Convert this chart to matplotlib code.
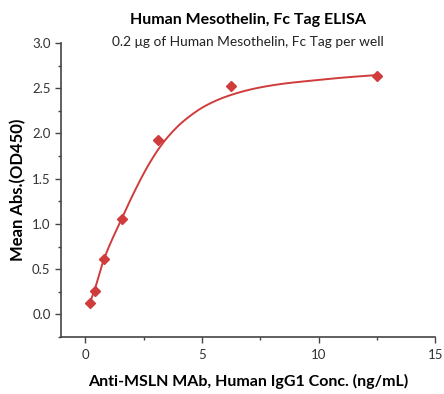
import matplotlib
matplotlib.use("Agg")
import matplotlib.pyplot as plt
from matplotlib.ticker import MultipleLocator
import numpy as np

plt.rcParams['font.family'] = ['Lato', 'DejaVu Sans']

# Data points
conc = [0.195, 0.39, 0.78, 1.56, 3.125, 6.25, 12.5]
od450 = [0.13, 0.26, 0.61, 1.05, 1.93, 2.52, 2.64]

# Fitted curve
curve_x = [0.195, 0.39, 0.78, 1.56, 2.03, 2.6, 3.1, 3.53, 4.18, 5.18, 6.18, 7.33, 8.5, 9.76, 11.19, 12.5]
curve_y = [0.13, 0.27, 0.60, 1.06, 1.32, 1.605, 1.815, 1.96, 2.13, 2.31, 2.42, 2.50, 2.55, 2.585, 2.62, 2.645]

title = "Human Mesothelin, Fc Tag ELISA"
subtitle = "0.2 \u03bcg of Human Mesothelin, Fc Tag per well"
xlabel = "Anti-MSLN MAb, Human IgG1 Conc. (ng/mL)"
ylabel = "Mean Abs.(OD450)"

color = "#d03c3c"


def smooth_line(x, y, n=400):
    """Monotone cubic Hermite rendering of the read-off curve points."""
    x = np.asarray(x, float)
    y = np.asarray(y, float)
    h = np.diff(x)
    delta = np.diff(y) / h
    m = np.empty_like(x)
    m[0] = delta[0]
    m[-1] = delta[-1]
    for k in range(1, len(x) - 1):
        if delta[k - 1] * delta[k] <= 0:
            m[k] = 0.0
        else:
            w1 = 2 * h[k] + h[k - 1]
            w2 = h[k] + 2 * h[k - 1]
            m[k] = (w1 + w2) / (w1 / delta[k - 1] + w2 / delta[k])
    xs = np.linspace(x[0], x[-1], n)
    idx = np.clip(np.searchsorted(x, xs) - 1, 0, len(x) - 2)
    t = (xs - x[idx]) / h[idx]
    h00 = 2 * t**3 - 3 * t**2 + 1
    h10 = t**3 - 2 * t**2 + t
    h01 = -2 * t**3 + 3 * t**2
    h11 = t**3 - t**2
    ys = h00 * y[idx] + h10 * h[idx] * m[idx] + h01 * y[idx + 1] + h11 * h[idx] * m[idx + 1]
    return xs, ys


xs, ys = smooth_line(curve_x, curve_y)

fig = plt.figure(figsize=(4.44, 3.94), dpi=100)
ax = fig.add_axes([0.1374, 0.1447, 0.8426, 0.7463])

ax.plot(xs, ys, color=color, lw=1.4, zorder=2)
ax.plot(conc, od450, linestyle='none', marker='D', markersize=5, color=color, zorder=3)

ax.set_xlim(-1.05, 15)
ax.set_ylim(-0.25, 3.0)
ax.xaxis.set_major_locator(MultipleLocator(5))
ax.xaxis.set_minor_locator(MultipleLocator(2.5))
ax.yaxis.set_minor_locator(MultipleLocator(0.25))
ax.set_yticks([0, 0.5, 1.0, 1.5, 2.0, 2.5, 3.0])
ax.set_yticklabels(["0.0", "0.5", "1.0", "1.5", "2.0", "2.5", "3.0"])

for s in ['top', 'right']:
    ax.spines[s].set_visible(False)
for s in ['left', 'bottom']:
    ax.spines[s].set_color('#444444')
    ax.spines[s].set_linewidth(1.2)

ax.tick_params(which='major', direction='out', length=4, width=1, color='#444444',
               labelsize=9.5, labelcolor='#333333')
ax.tick_params(which='minor', direction='out', length=2.5, width=1, color='#444444')
ax.tick_params(axis='x', pad=5)

ax.set_xlabel(xlabel, fontsize=11.5, fontweight='bold')
ax.xaxis.set_label_coords(0.5, -0.125)
ax.set_ylabel(ylabel, fontsize=12, fontweight='bold')
ax.yaxis.set_label_coords(-0.093, 0.5)

fig.text(0.559, 0.948, title, ha='center', va='center', fontsize=11.5, fontweight='bold')
fig.text(0.559, 0.893, subtitle, ha='center', va='center', fontsize=9.9, color='#222222')

fig.savefig("out.png", dpi=100)
